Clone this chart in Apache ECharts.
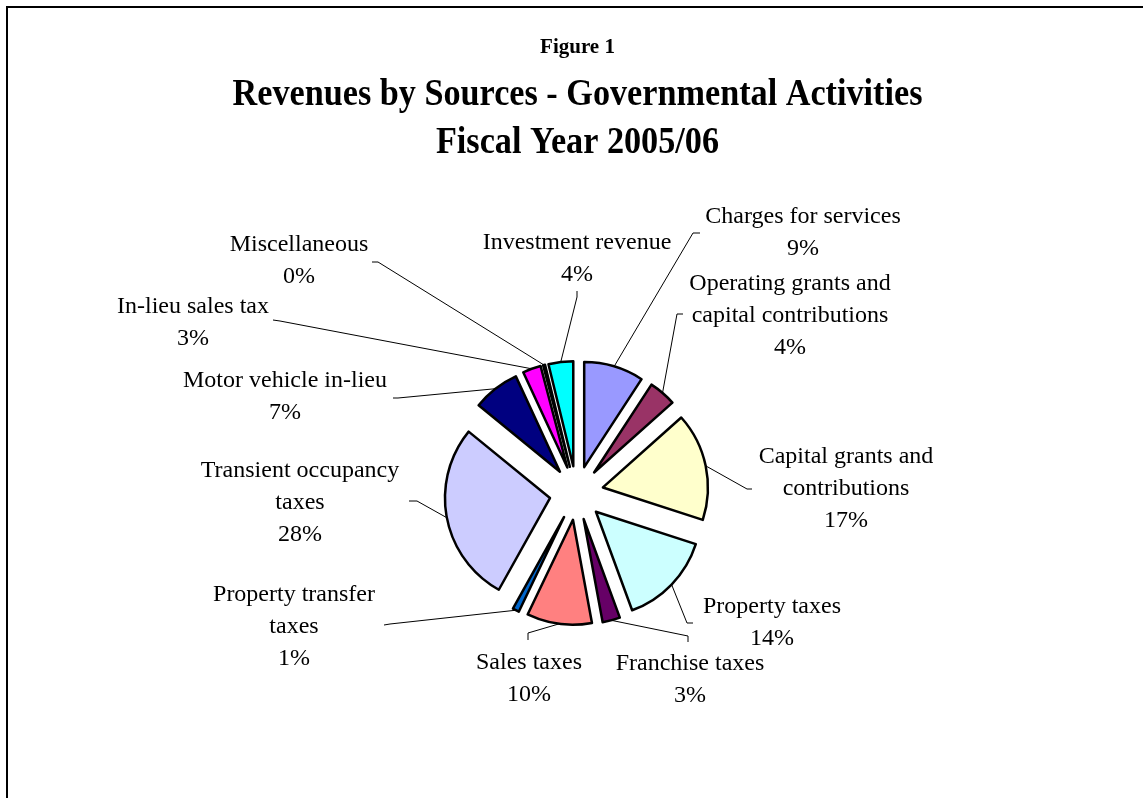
<!DOCTYPE html>
<html>
<head>
<meta charset="utf-8">
<script src="https://cdn.jsdelivr.net/npm/echarts@6/dist/echarts.min.js"></script>
<style>
  html, body { margin: 0; padding: 0; background: #ffffff; }
  #chart { width: 1143px; height: 798px; }
</style>
</head>
<body>
<div id="chart"></div>
<script>
// Revenue sources, clockwise from 12 o'clock (share of total, %)
const categories = [
  'Charges for services',
  'Operating grants and\ncapital contributions',
  'Capital grants and\ncontributions',
  'Property taxes',
  'Franchise taxes',
  'Sales taxes',
  'Property transfer\ntaxes',
  'Transient occupancy\ntaxes',
  'Motor vehicle in-lieu',
  'In-lieu sales tax',
  'Miscellaneous',
  'Investment revenue'
];
const shares = [9.2, 4.2, 16.6, 14.4, 2.7, 10.0, 1.0, 27.8, 7.2, 2.8, 0.3, 3.8];

const titleLines = ['Figure 1', 'Revenues by Sources - Governmental Activities', 'Fiscal Year 2005/06'];

// Slice fill colours
const palette = ['#9999FF', '#993366', '#FFFFCC', '#CCFFFF', '#660066', '#FF8080',
                 '#0066CC', '#CCCCFF', '#000080', '#FF00FF', '#FFFF00', '#00FFFF'];

// Pie geometry
const PIE = { cx: 576.5, cy: 493, r: 105, offset: 27 };

// Where each label block sits, and where its leader line ends (bend, then short tick)
const labelSpots = [
  { x: 803, y: 233, bend: [693, 233], tick: [700, 233] },
  { x: 790, y: 316, bend: [677, 314], tick: [683, 314] },
  { x: 846, y: 489, bend: [747, 489], tick: [752, 489] },
  { x: 772, y: 623, bend: [687, 623], tick: [693, 623] },
  { x: 690, y: 680, bend: [688, 636], tick: [688, 642] },
  { x: 529, y: 679, bend: [528, 633], tick: [528, 640] },
  { x: 294, y: 627, bend: [390, 624], tick: [384, 625] },
  { x: 300, y: 503, bend: [417, 501], tick: [409, 501] },
  { x: 285, y: 397, bend: [398, 398], tick: [393, 398] },
  { x: 193, y: 323, bend: [280, 321], tick: [273, 320] },
  { x: 299, y: 261, bend: [378, 262], tick: [372, 262] },
  { x: 577, y: 259, bend: [577, 297], tick: [577, 291] }
];

const total = shares.reduce((a, b) => a + b, 0);

// Outer-arc midpoint of each exploded slice, where its leader line starts
function arcMid(i) {
  let before = 0;
  for (let k = 0; k < i; k++) before += shares[k];
  const mid = (before + shares[i] / 2) / total * Math.PI * 2; // clockwise from top
  const sx = Math.sin(mid), sy = -Math.cos(mid);
  return [PIE.cx + sx * (PIE.offset + PIE.r), PIE.cy + sy * (PIE.offset + PIE.r)];
}

const serif = "'Liberation Serif', 'Times New Roman', serif";

function titleText(text, y, size, scaleX) {
  return {
    type: 'text', x: 577.5, y: y, scaleX: scaleX, silent: true,
    style: {
      text: text, fill: '#000000', align: 'center', verticalAlign: 'middle',
      font: 'bold ' + size + 'px ' + serif
    }
  };
}

const chart = echarts.init(document.getElementById('chart'), null, { renderer: 'canvas' });

const baseSeries = {
  type: 'pie',
  center: [PIE.cx, PIE.cy],
  radius: PIE.r,
  startAngle: 90,
  clockwise: true,
  avoidLabelOverlap: false,
  emphasis: { disabled: true }
};

chart.setOption({
  animation: false,
  backgroundColor: '#ffffff',
  graphic: [
    {
      type: 'rect',
      shape: { x: 7, y: 7, width: 1141, height: 800 },
      style: { fill: 'none', stroke: '#000000', lineWidth: 2 },
      silent: true
    },
    titleText(titleLines[0], 48, 21, 1),
    titleText(titleLines[1], 95, 38, 0.9),
    titleText(titleLines[2], 143, 38, 0.9)
  ],
  series: [
    // exploded slices
    Object.assign({}, baseSeries, {
      name: 'Revenues',
      selectedMode: 'multiple',
      selectedOffset: PIE.offset,
      itemStyle: { borderColor: '#000000', borderWidth: 2.5 },
      select: { itemStyle: { borderColor: '#000000', borderWidth: 2.5 } },
      label: { show: false },
      labelLine: { show: false },
      data: categories.map((name, i) => ({
        name: name,
        value: shares[i],
        selected: true,
        itemStyle: { color: palette[i] }
      }))
    }),
    // category / percentage labels with leader lines
    Object.assign({}, baseSeries, {
      name: 'Revenue labels',
      silent: true,
      selectedMode: false,
      itemStyle: { color: 'rgba(0,0,0,0)', borderWidth: 0 },
      data: categories.map((name, i) => ({ name: name, value: shares[i] })),
      label: {
        show: true,
        formatter: p => p.name + '\n' + Math.round(p.value / total * 100) + '%',
        fontFamily: serif,
        fontSize: 24,
        lineHeight: 32,
        color: '#000000',
        align: 'center'
      },
      labelLine: {
        show: true,
        length: 10,
        length2: 10,
        lineStyle: { color: '#000000', width: 1 }
      },
      labelLayout: function (params) {
        const i = params.dataIndex;
        const s = labelSpots[i];
        return {
          x: s.x,
          y: s.y,
          align: 'center',
          verticalAlign: 'middle',
          labelLinePoints: [arcMid(i), s.bend.slice(), s.tick.slice()]
        };
      }
    })
  ]
});
</script>
</body>
</html>
